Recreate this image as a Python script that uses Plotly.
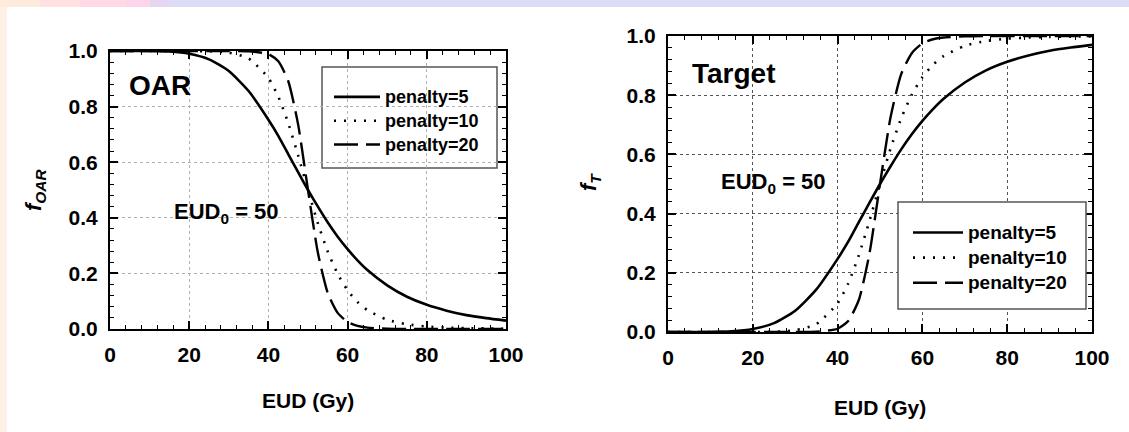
import plotly.graph_objects as go

# ---------------- data ----------------
eud = [0, 5, 10, 15, 20, 25, 30, 35, 40, 42.5, 45, 47.5, 50, 52.5, 55, 57.5,
       60, 62.5, 65, 70, 75, 80, 85, 90, 95, 100]

oar_p5 = [1.0, 1.0, 1.0, 0.998, 0.990, 0.970, 0.928, 0.856, 0.753, 0.695, 0.629, 0.564,
          0.5, 0.440, 0.383, 0.332, 0.287, 0.247, 0.212, 0.157, 0.116, 0.087, 0.066,
          0.050, 0.039, 0.030]
oar_p10 = [1.0, 1.0, 1.0, 1.0, 1.0, 0.999, 0.994, 0.973, 0.903, 0.836, 0.741, 0.625,
           0.5, 0.380, 0.278, 0.198, 0.139, 0.097, 0.068, 0.033, 0.017, 0.009, 0.005,
           0.003, 0.002, 0.001]
oar_p20 = [1.0, 1.0, 1.0, 1.0, 1.0, 1.0, 1.0, 0.999, 0.989, 0.963, 0.892, 0.736,
           0.5, 0.274, 0.129, 0.058, 0.025, 0.011, 0.005, 0.001, 0.0, 0.0, 0.0,
           0.0, 0.0, 0.0]

tgt_p5 = [0.0, 0.0, 0.0, 0.002, 0.010, 0.030, 0.072, 0.144, 0.247, 0.305, 0.371, 0.436,
          0.5, 0.560, 0.617, 0.668, 0.713, 0.753, 0.788, 0.843, 0.884, 0.913, 0.934,
          0.950, 0.961, 0.970]
tgt_p10 = [0.0, 0.0, 0.0, 0.0, 0.0, 0.001, 0.006, 0.027, 0.097, 0.164, 0.259, 0.375,
           0.5, 0.620, 0.722, 0.802, 0.861, 0.903, 0.932, 0.967, 0.983, 0.991, 0.995,
           0.997, 0.998, 0.999]
tgt_p20 = [0.0, 0.0, 0.0, 0.0, 0.0, 0.0, 0.0, 0.001, 0.011, 0.037, 0.108, 0.264,
           0.5, 0.726, 0.871, 0.942, 0.975, 0.989, 0.995, 0.999, 1.0, 1.0, 1.0,
           1.0, 1.0, 1.0]

series_names = ["penalty=5", "penalty=10", "penalty=20"]
x_ticks = [0, 20, 40, 60, 80, 100]
y_ticks = [0.0, 0.2, 0.4, 0.6, 0.8, 1.0]
y_tick_labels = ["0.0", "0.2", "0.4", "0.6", "0.8", "1.0"]

# ---------------- styles ----------------
FONT = "Liberation Sans, Arial, sans-serif"
W, H = 1129, 432
styles = [
    dict(color="black", width=2.6, dash="solid"),
    dict(color="black", width=2.6, dash="2px,8px"),
    dict(color="black", width=2.4, dash="24px,8px"),
]

fig = go.Figure()

def add_panel(ys, xa, ya, legend, text_px):
    for name, y, st in zip(series_names, ys, styles):
        fig.add_trace(go.Scatter(
            x=eud, y=y, mode="lines",
            name=f'<span style="font-size:{text_px}px">{name}</span>',
            line=dict(color=st["color"], width=st["width"], dash=st["dash"], shape="spline", smoothing=0.6),
            xaxis=xa, yaxis=ya, legend=legend, showlegend=True,
        ))

add_panel([oar_p5, oar_p10, oar_p20], "x", "y", "legend", 18)
add_panel([tgt_p5, tgt_p10, tgt_p20], "x2", "y2", "legend2", 19)

def px_x(p):
    return p / W

def px_y(p):
    return 1 - p / H

def axis_common(gridcolor):
    return dict(
        automargin=False,
        showline=True, linecolor="black", linewidth=2, mirror="ticks",
        ticks="inside", ticklen=8, tickwidth=1.5, tickcolor="black",
        showgrid=True, gridcolor=gridcolor, griddash="dot", gridwidth=1,
        zeroline=False,
        tickfont=dict(family=FONT, size=21, color="black", weight="bold"),
        minor=dict(ticks="inside", ticklen=4, tickwidth=1, tickcolor="black", showgrid=False),
    )

xcommon = dict(range=[0, 100], tickvals=x_ticks, ticktext=[str(v) for v in x_ticks], minor_dtick=4)
ycommon = dict(range=[0, 1], tickvals=y_ticks, ticktext=y_tick_labels, minor_dtick=0.04)

fig.update_layout(
    width=W, height=H,
    margin=dict(l=0, r=0, t=0, b=0, autoexpand=False),
    paper_bgcolor="white", plot_bgcolor="white",
    xaxis=dict(domain=[px_x(110), px_x(506)], anchor="y", ticklabelstandoff=6, **xcommon, **axis_common("#b0b0b0")),
    yaxis=dict(domain=[px_y(329), px_y(51)], anchor="x", ticklabelstandoff=6, **ycommon, **axis_common("#b0b0b0")),
    xaxis2=dict(domain=[px_x(668), px_x(1092)], anchor="y2", ticklabelstandoff=6, **xcommon, **axis_common("#555555")),
    yaxis2=dict(domain=[px_y(332), px_y(36)], anchor="x2", ticklabelstandoff=6, **ycommon, **axis_common("#555555")),
    legend=dict(
        x=px_x(329), y=px_y(80), xanchor="left", yanchor="top",
        borderwidth=0, bgcolor="rgba(0,0,0,0)",
        font=dict(family=FONT, size=16, color="black", weight="bold"),
        tracegroupgap=0, itemwidth=46,
    ),
    legend2=dict(
        x=px_x(908), y=px_y(215), xanchor="left", yanchor="top",
        borderwidth=0, bgcolor="rgba(0,0,0,0)",
        font=dict(family=FONT, size=17, color="black", weight="bold"),
        tracegroupgap=0, itemwidth=50,
    ),
    showlegend=True,
)

# legend boxes
fig.add_shape(type="rect", xref="paper", yref="paper", x0=px_x(322), x1=px_x(497), y0=px_y(168), y1=px_y(67),
              fillcolor="white", line=dict(color="#555555", width=1.5), layer="below")
fig.add_shape(type="rect", xref="paper", yref="paper", x0=px_x(898), x1=px_x(1086), y0=px_y(309), y1=px_y(202),
              fillcolor="white", line=dict(color="#555555", width=1.5), layer="above")

# decorative background strips
fig.add_shape(type="rect", xref="paper", yref="paper", x0=0, x1=px_x(7), y0=0, y1=1,
              fillcolor="#fff2e4", line=dict(width=0), layer="below")
banner = [(0, 40, "#ffebdc"), (40, 80, "#ffe2e0"), (80, 125, "#fedae6"), (125, 150, "#fdd4ec"),
          (150, 170, "#e6d6f2"), (170, 1129, "#dcdcf8")]
for a, b, c in banner:
    fig.add_shape(type="rect", xref="paper", yref="paper", x0=px_x(a), x1=px_x(b), y0=px_y(7), y1=1,
                  fillcolor=c, line=dict(width=0), layer="below")

def ann(text, xp, yp, size, angle=0):
    fig.add_annotation(text=text, x=px_x(xp), y=px_y(yp), xref="paper", yref="paper",
                       showarrow=False, textangle=angle, xanchor="center", yanchor="middle",
                       font=dict(family=FONT, size=size, color="black", weight="bold"))

ann("OAR", 160, 85, 28)
ann("Target", 734, 73, 28)
ann("EUD<sub>0</sub> = 50", 226, 213, 22)
ann("EUD<sub>0</sub> = 50", 773, 183, 22)
ann("EUD (Gy)", 308, 400, 21)
ann("EUD (Gy)", 880, 407, 21)
ann("<i>f</i><sub><i>OAR</i></sub>", 35, 190, 22, -90)
ann("<i>f</i><sub><i>T</i></sub>", 590, 182, 22, -90)

fig.write_html("out.html", config={"displayModeBar": False},
               post_script="document.body.style.margin='0px';document.body.style.overflow='hidden';")
